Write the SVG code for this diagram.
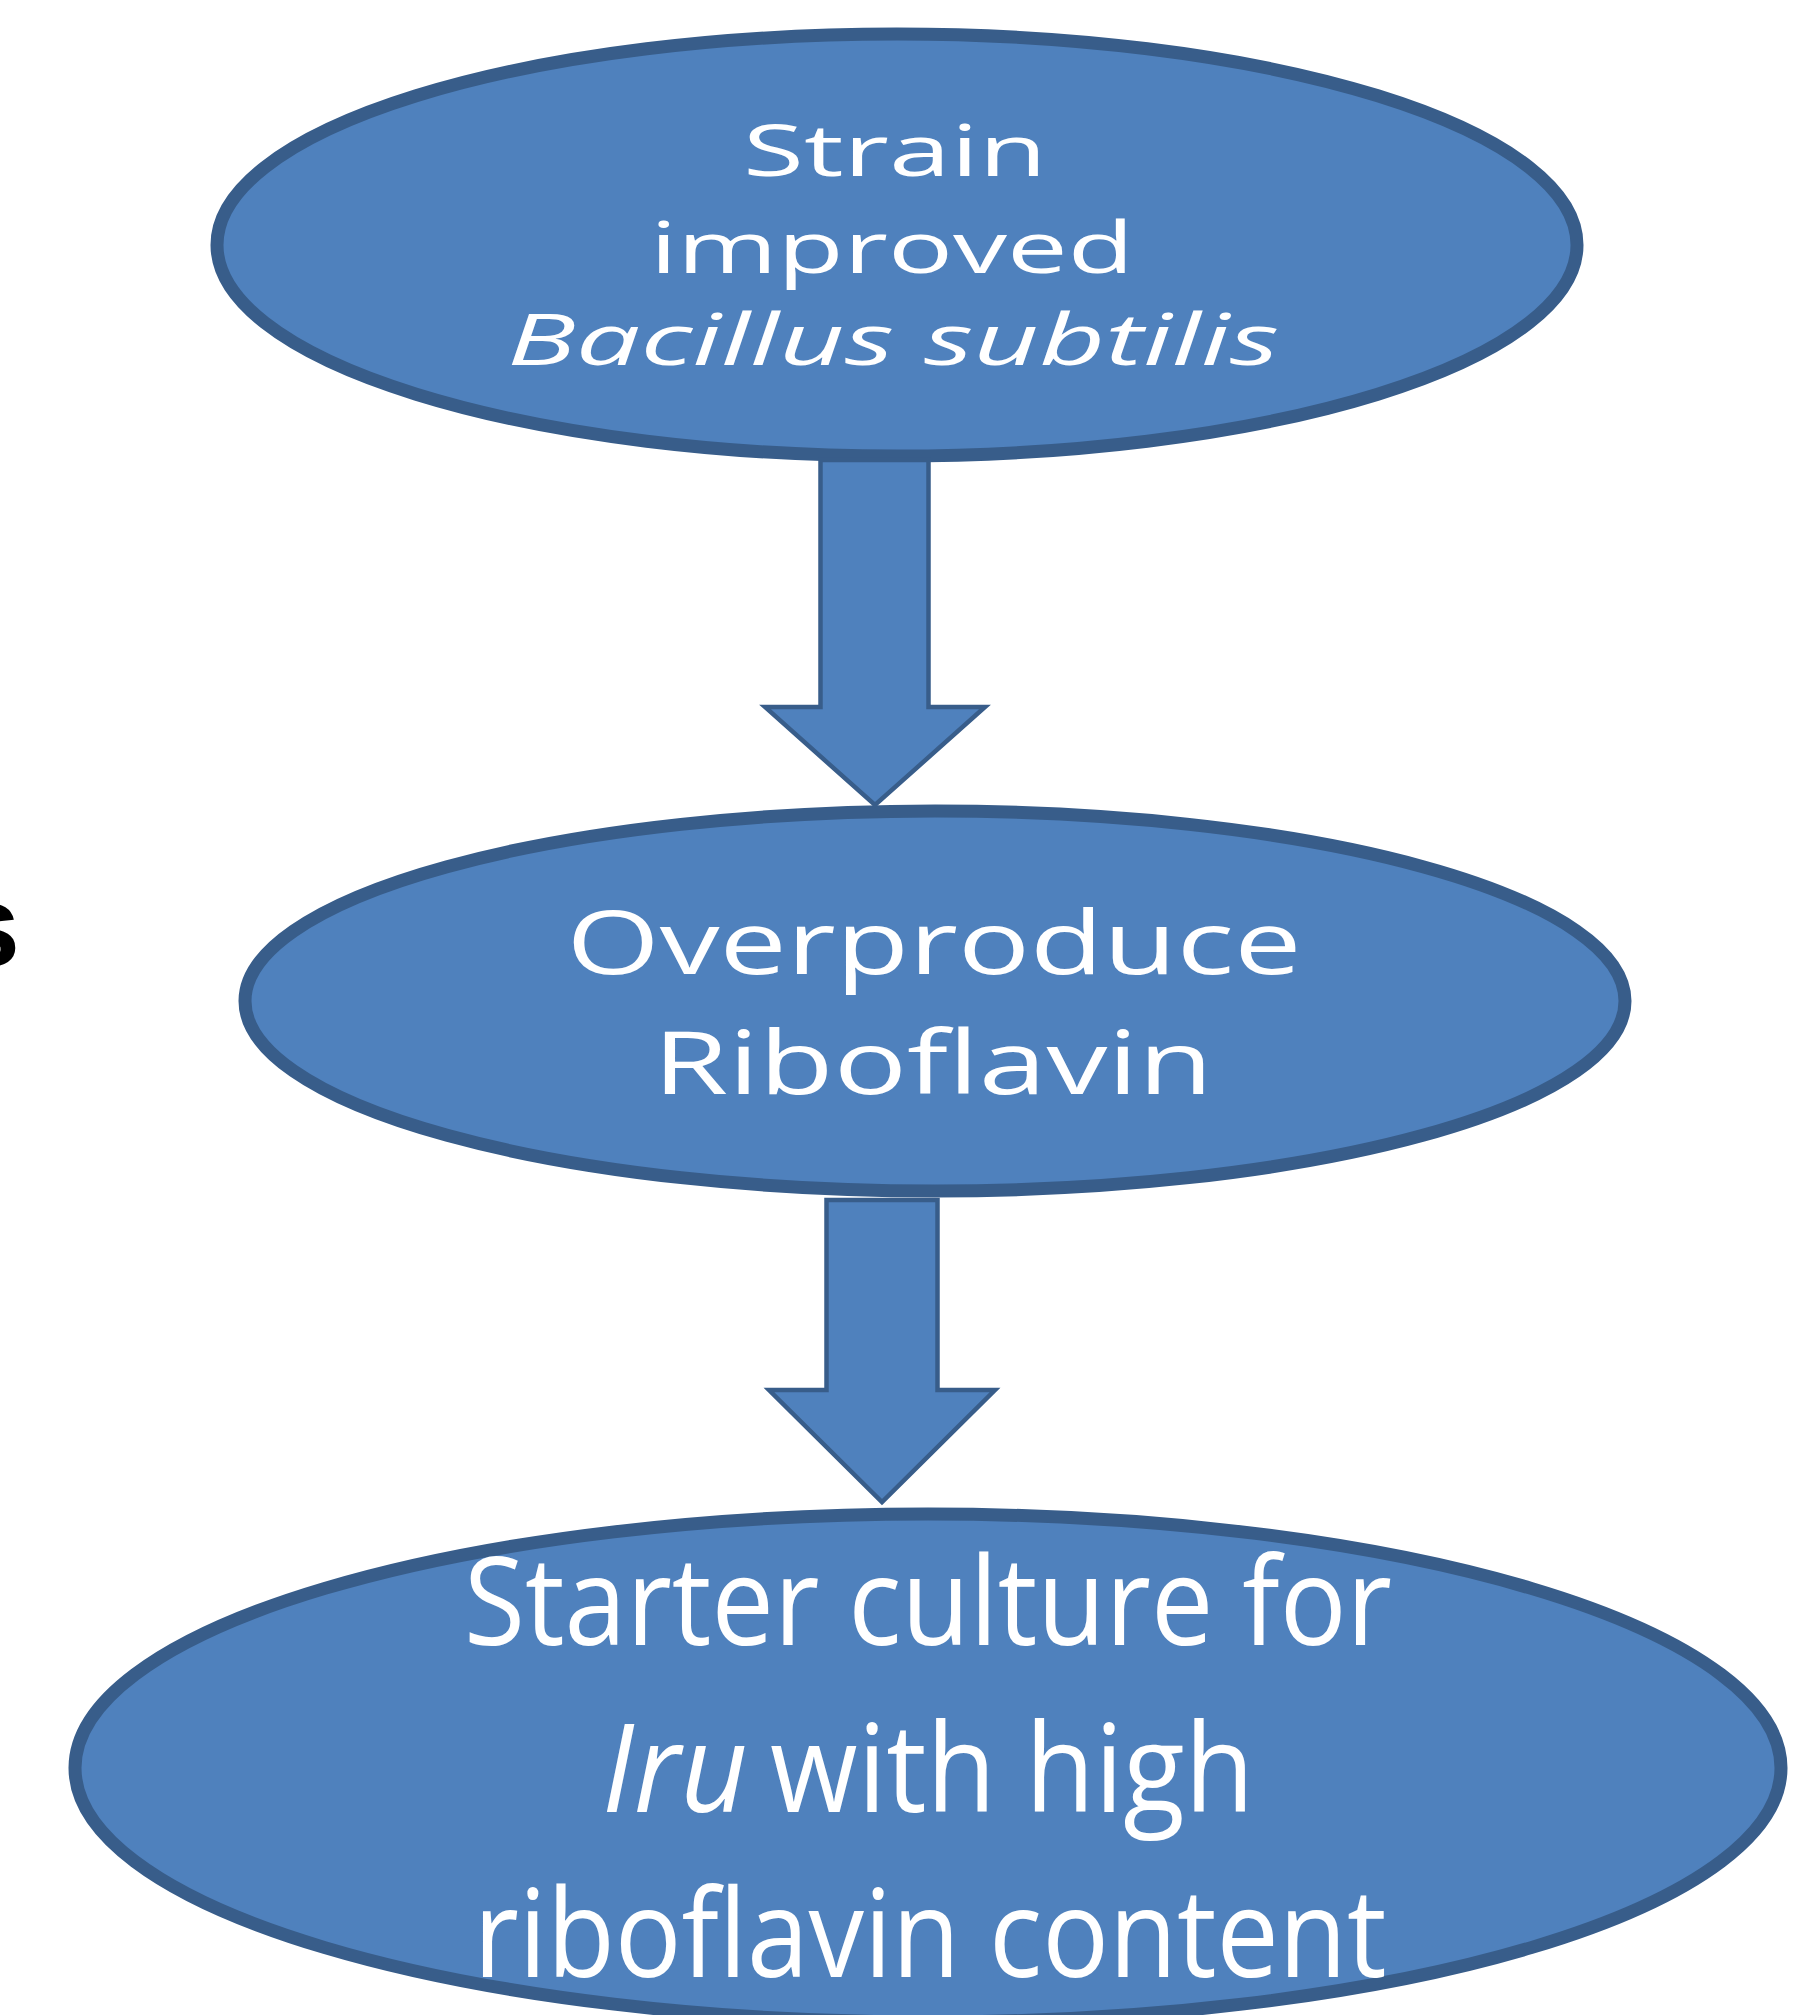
<svg xmlns="http://www.w3.org/2000/svg" width="1814" height="2015" viewBox="0 0 1814 2015">
  <style>
    .node { fill: #4F81BD; stroke: #385D8A; stroke-width: 13; }
    .arrow { fill: #4F81BD; stroke: #385D8A; stroke-width: 4.5; stroke-linejoin: miter; }
    .lbl { font-family: "Open Sans", "Noto Sans", "Liberation Sans", sans-serif; fill: #FFFFFF; }
    .it { font-style: italic; }
  </style>
  <rect x="0" y="0" width="1814" height="2015" fill="#FFFFFF"/>
  <text x="-45" y="966" font-family="'Liberation Sans', Arial, sans-serif" font-weight="bold" font-size="117" fill="#000000">s</text>

  <g id="node-strain">
    <ellipse class="node" cx="897" cy="245" rx="680" ry="211"/>
    <text class="lbl" x="895" y="176" font-size="71" text-anchor="middle" textLength="304" lengthAdjust="spacingAndGlyphs">Strain</text>
    <text class="lbl" x="892" y="273" font-size="71" text-anchor="middle" textLength="484" lengthAdjust="spacingAndGlyphs">improved</text>
    <text class="lbl it" x="893" y="365" font-size="71" text-anchor="middle" textLength="772" lengthAdjust="spacingAndGlyphs">Bacillus subtilis</text>
  </g>

  <g id="node-overproduce">
    <ellipse class="node" cx="935" cy="1001" rx="690" ry="190"/>
    <text class="lbl" x="934" y="974" font-size="87" text-anchor="middle" textLength="735" lengthAdjust="spacingAndGlyphs">Overproduce</text>
    <text class="lbl" x="933" y="1094" font-size="87" text-anchor="middle" textLength="560" lengthAdjust="spacingAndGlyphs">Riboflavin</text>
  </g>

  <g id="node-starter">
    <ellipse class="node" cx="928" cy="1768" rx="853" ry="254"/>
    <text class="lbl" x="928" y="1645" font-size="122" text-anchor="middle" textLength="928" lengthAdjust="spacingAndGlyphs">Starter culture for</text>
    <text class="lbl it" x="602" y="1812" font-size="122" textLength="146" lengthAdjust="spacingAndGlyphs">Iru</text>
    <text class="lbl" x="770" y="1812" font-size="122" textLength="484" lengthAdjust="spacingAndGlyphs">with high</text>
    <text class="lbl" x="930" y="1977" font-size="122" text-anchor="middle" textLength="913" lengthAdjust="spacingAndGlyphs">riboflavin content</text>
  </g>

  <g id="connectors">
    <polygon class="arrow" points="820.5,460 928.5,460 928.5,707 985,707 875,805 765,707 820.5,707"/>
    <polygon class="arrow" points="826.5,1200 937.5,1200 937.5,1390 995,1390 882,1502 769,1390 826.5,1390"/>
  </g>
</svg>
